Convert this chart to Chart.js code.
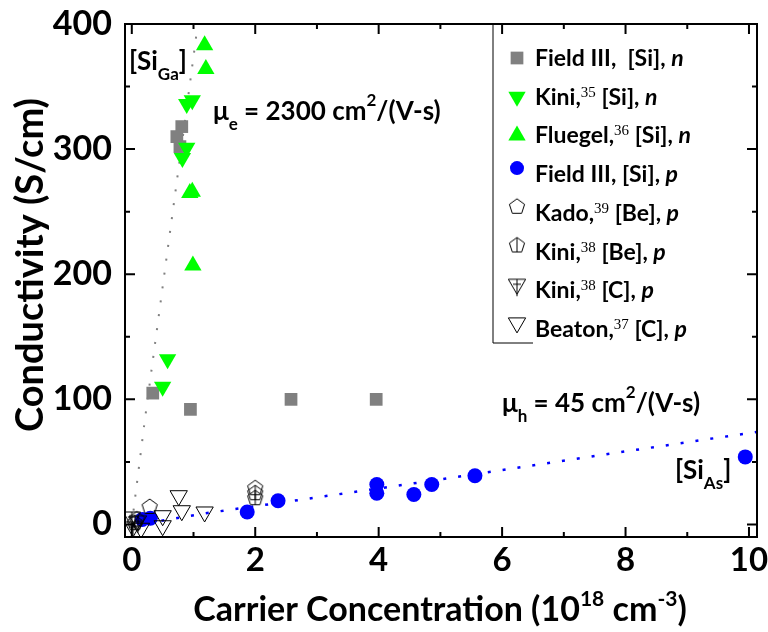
<!DOCTYPE html>
<html>
<head>
<meta charset="utf-8">
<script src="https://cdn.jsdelivr.net/npm/chart.js@4.4.1/dist/chart.umd.min.js"></script>
<style>
  html, body { margin: 0; padding: 0; background: #fff; }
  #wrap { width: 768px; height: 632px; }
</style>
</head>
<body>
<div id="wrap"><canvas id="sigmaChart"></canvas></div>
<script>
// carrier concentration in 1e18 cm^-3, conductivity in S/cm
const fieldN_x   = [0.34, 0.95, 2.58, 3.96, 0.81, 0.73, 0.78];
const fieldN_y   = [105, 92, 100, 100, 318, 310, 302];
const kiniSi_x   = [0.58, 0.50, 0.89, 0.98, 0.89, 0.82];
const kiniSi_y   = [132, 110, 336, 339, 301, 293];
const fluegel_x  = [1.18, 1.20, 0.94, 0.98, 0.99];
const fluegel_y  = [383, 364, 265, 266, 207];
const fieldP_x   = [0.17, 0.30, 1.87, 2.37, 3.97, 3.97, 4.57, 4.86, 5.56, 9.94];
const fieldP_y   = [4, 5, 10, 19, 32, 25, 24, 32, 39, 54];
const kado_x     = [2.0, 0.29, 0.08];
const kado_y     = [29, 14, 4];
const kiniBe_x   = [2.0, 2.0, 0.05];
const kiniBe_y   = [25, 21, 1];
const kiniC_x    = [0.02, 0.10, 0.0];
const kiniC_y    = [-2, 3, 6];
const beaton_x   = [0.76, 0.81, 1.18, 0.50, 0.50, 0.15];
const beaton_y   = [23, 11, 10, 7, -1, -3];

// mobility guide lines
const muE_x = [0, 0.21, 0.53, 0.89, 1.07];
const muE_y = [0, 83, 201, 333, 400];
const muH_x = [0, 1.2, 2.63, 5.0, 7.67, 10.13];
const muH_y = [-1, 9, 19, 36, 56, 74];

const xTicks = [0, 2, 4, 6, 8, 10];
const yTicks = [0, 100, 200, 300, 400];

const FONT = 'Lato, "Open Sans", sans-serif';
const pts = (xs, ys) => xs.map((x, i) => ({ x: x, y: ys[i] }));

function pentagon(r, stem) {
  const s = Math.ceil(r * 2 + 4);
  const c = document.createElement('canvas');
  c.width = s; c.height = s;
  const g = c.getContext('2d');
  g.strokeStyle = '#000';
  g.lineWidth = 1;
  g.beginPath();
  for (let i = 0; i < 5; i++) {
    const a = -Math.PI / 2 + i * 2 * Math.PI / 5;
    const px = s / 2 + r * Math.cos(a), py = s / 2 + r * Math.sin(a);
    if (i) g.lineTo(px, py); else g.moveTo(px, py);
  }
  g.closePath();
  g.stroke();
  if (stem) {
    g.beginPath();
    g.moveTo(s / 2, s / 2 - r);
    g.lineTo(s / 2, s / 2 + r * Math.cos(Math.PI / 5));
    g.stroke();
  }
  return c;
}

function crossTriangle(r) {
  const s = Math.ceil(r * 2 + 6);
  const c = document.createElement('canvas');
  c.width = s; c.height = s;
  const g = c.getContext('2d');
  const cx = s / 2, cy = s / 2;
  g.strokeStyle = '#000';
  g.lineWidth = 1;
  g.beginPath();
  g.moveTo(cx - r * 0.866, cy - r / 2);
  g.lineTo(cx + r * 0.866, cy - r / 2);
  g.lineTo(cx, cy + r);
  g.closePath();
  g.moveTo(cx, cy - r / 2);
  g.lineTo(cx, cy + r + 2);
  g.moveTo(cx - 4, cy);
  g.lineTo(cx + 4, cy);
  g.stroke();
  return c;
}

const kadoMark = pentagon(8, false);
const kiniBeMark = pentagon(8, true);
const kiniCMark = crossTriangle(10);

const datasets = [
  { label: 'muE', data: pts(muE_x, muE_y), showLine: true, pointRadius: 0,
    borderColor: '#808080', borderWidth: 2, borderDash: [2, 12], order: 20 },
  { label: 'muH', data: pts(muH_x, muH_y), showLine: true, pointRadius: 0,
    borderColor: '#0000ff', borderWidth: 2.5, borderDash: [3, 12], order: 20 },
  { label: 'Field III, [Si], n', data: pts(fieldN_x, fieldN_y), pointStyle: 'rect',
    pointRadius: 9, backgroundColor: '#808080', borderColor: '#808080', borderWidth: 0, order: 8 },
  { label: 'Kini [Si] n', data: pts(kiniSi_x, kiniSi_y), pointStyle: 'triangle', rotation: 180,
    pointRadius: 10, backgroundColor: '#00ff00', borderColor: '#00ff00', borderWidth: 0, order: 7 },
  { label: 'Fluegel', data: pts(fluegel_x, fluegel_y), pointStyle: 'triangle',
    pointRadius: 10, backgroundColor: '#00ff00', borderColor: '#00ff00', borderWidth: 0, order: 6 },
  { label: 'Field III, [Si], p', data: pts(fieldP_x, fieldP_y), pointStyle: 'circle',
    pointRadius: 7.5, backgroundColor: '#0000ff', borderColor: '#0000ff', borderWidth: 0, order: 5 },
  { label: 'Kado', data: pts(kado_x, kado_y), pointStyle: kadoMark, order: 4 },
  { label: 'Kini Be', data: pts(kiniBe_x, kiniBe_y), pointStyle: kiniBeMark, order: 3 },
  { label: 'Kini C', data: pts(kiniC_x, kiniC_y), pointStyle: kiniCMark, order: 2 },
  { label: 'Beaton', data: pts(beaton_x, beaton_y), pointStyle: 'triangle', rotation: 180,
    pointRadius: 10, backgroundColor: 'rgba(0,0,0,0)', borderColor: '#000', borderWidth: 1, order: 1 }
];

// write a run of text pieces: [text, font, baseline shift]
function rich(ctx, x, y, parts, align) {
  let w = 0;
  parts.forEach(p => { ctx.font = p[1]; w += ctx.measureText(p[0]).width; });
  let cx = align === 'center' ? x - w / 2 : x;
  parts.forEach(p => {
    ctx.font = p[1];
    ctx.fillText(p[0], cx, y + (p[2] || 0));
    cx += ctx.measureText(p[0]).width;
  });
}

const B = s => 'bold ' + s + 'px ' + FONT;
const BI = s => 'italic bold ' + s + 'px ' + FONT;
const SUP = s => s + 'px "Liberation Serif", serif';

const LF = 23;
const legendRows = [
  { style: 'sq', parts: [['Field III,  [Si], ', B(LF)], ['n', BI(LF)]] },
  { style: 'dn', parts: [['Kini,', B(LF)], ['35', SUP(15), -8], [' [Si], ', B(LF)], ['n', BI(LF)]] },
  { style: 'up', parts: [['Fluegel,', B(LF)], ['36', SUP(15), -8], [' [Si], ', B(LF)], ['n', BI(LF)]] },
  { style: 'ci', parts: [['Field III, [Si], ', B(LF)], ['p', BI(LF)]] },
  { style: kadoMark, parts: [['Kado,', B(LF)], ['39', SUP(15), -8], [' [Be], ', B(LF)], ['p', BI(LF)]] },
  { style: kiniBeMark, parts: [['Kini,', B(LF)], ['38', SUP(15), -8], [' [Be], ', B(LF)], ['p', BI(LF)]] },
  { style: kiniCMark, parts: [['Kini,', B(LF)], ['38', SUP(15), -8], [' [C], ', B(LF)], ['p', BI(LF)]] },
  { style: 'ot', parts: [['Beaton,', B(LF)], ['37', SUP(15), -8], [' [C], ', B(LF)], ['p', BI(LF)]] }
];

const decor = {
  id: 'decor',
  afterDraw(chart) {
    const ctx = chart.ctx;
    const a = chart.chartArea;
    const xs = chart.scales.x, ys = chart.scales.y;
    ctx.save();
    ctx.strokeStyle = '#000';
    ctx.lineWidth = 2;
    ctx.strokeRect(a.left, a.top, a.right - a.left, a.bottom - a.top);

    // inward ticks on all four sides
    ctx.beginPath();
    for (let v = 0; v <= 10; v++) {
      const px = xs.getPixelForValue(v);
      const len = v % 2 === 0 ? 10 : 5;
      ctx.moveTo(px, a.bottom); ctx.lineTo(px, a.bottom - len);
      ctx.moveTo(px, a.top); ctx.lineTo(px, a.top + len);
    }
    for (let v = 0; v <= 400; v += 50) {
      const py = ys.getPixelForValue(v);
      const len = v % 100 === 0 ? 10 : 5;
      ctx.moveTo(a.left, py); ctx.lineTo(a.left + len, py);
      ctx.moveTo(a.right, py); ctx.lineTo(a.right - len, py);
    }
    ctx.stroke();

    // legend frame
    ctx.lineWidth = 1;
    ctx.beginPath();
    ctx.moveTo(493, a.top); ctx.lineTo(493, 343); ctx.lineTo(533, 343);
    ctx.stroke();

    ctx.fillStyle = '#000';
    ctx.textBaseline = 'alphabetic';
    ctx.textAlign = 'left';
    legendRows.forEach((r, i) => {
      const base = 66 + i * 38.7;
      const my = base - 8;
      const mx = 517;
      let opt;
      if (r.style === 'sq') opt = { pointStyle: 'rect', radius: 9, borderWidth: 0 };
      else if (r.style === 'dn') opt = { pointStyle: 'triangle', radius: 10, rotation: 180, borderWidth: 0 };
      else if (r.style === 'up') opt = { pointStyle: 'triangle', radius: 10, borderWidth: 0 };
      else if (r.style === 'ci') opt = { pointStyle: 'circle', radius: 7, borderWidth: 0 };
      else if (r.style === 'ot') opt = { pointStyle: 'triangle', radius: 10, rotation: 180, borderWidth: 1 };
      else opt = { pointStyle: r.style, radius: 8 };
      const fill = { sq: '#808080', dn: '#00ff00', up: '#00ff00', ci: '#0000ff' }[r.style];
      ctx.save();
      ctx.fillStyle = fill || 'rgba(0,0,0,0)';
      ctx.strokeStyle = '#000';
      ctx.lineWidth = 1;
      const off = (r.style === 'ci' || typeof r.style !== 'string' || r.style === 'ot') ? -6 : 0;
      Chart.helpers.drawPoint(ctx, opt, mx, my + off);
      ctx.restore();
      ctx.fillStyle = '#000';
      rich(ctx, 535, base, r.parts);
    });

    // annotations
    rich(ctx, 129, 70, [['[Si', B(26)], ['Ga', B(17), 10], [']', B(26)]]);
    rich(ctx, 213, 120, [['\u03bc', B(26)], ['e', B(17), 10], [' = 2300 cm', B(26)], ['2', B(17), -14], ['/(V-s)', B(26)]]);
    rich(ctx, 502, 412, [['\u03bc', B(26)], ['h', B(17), 10], [' = 45 cm', B(26)], ['2', B(17), -14], ['/(V-s)', B(26)]]);
    rich(ctx, 675, 479, [['[Si', B(26)], ['As', B(17), 10], [']', B(26)]]);

    // axis titles
    rich(ctx, 440, 621, [['Carrier Concentration (10', B(34)], ['18', B(21), -15], [' cm', B(34)], ['-3', B(21), -15], [')', B(34)]], 'center');
    ctx.translate(43, 265);
    ctx.rotate(-Math.PI / 2);
    rich(ctx, 0, 0, [['Conductivity (S/cm)', B(38)]], 'center');
    ctx.restore();
  }
};

new Chart(document.getElementById('sigmaChart'), {
  type: 'scatter',
  data: { datasets: datasets },
  options: {
    responsive: true,
    maintainAspectRatio: false,
    animation: false,
    layout: { padding: { top: 24, right: 9, left: 0, bottom: 0 } },
    plugins: { legend: { display: false }, tooltip: { enabled: false } },
    elements: { line: { tension: 0, fill: false } },
    scales: {
      x: {
        type: 'linear', min: -0.11, max: 10.13,
        grid: { display: false, drawTicks: false },
        border: { display: false },
        afterBuildTicks: s => { s.ticks = xTicks.map(v => ({ value: v })); },
        afterFit: s => { s.height = 95; s.paddingLeft = 0; s.paddingRight = 0; },
        ticks: { padding: 4, color: '#000', font: { family: FONT, size: 33, weight: 'bold' } }
      },
      y: {
        type: 'linear', min: -10, max: 400,
        grid: { display: false, drawTicks: false },
        border: { display: false },
        afterBuildTicks: s => { s.ticks = yTicks.map(v => ({ value: v })); },
        afterFit: s => { s.width = 125; s.paddingTop = 0; s.paddingBottom = 0; },
        ticks: { padding: 13, color: '#000', font: { family: FONT, size: 34, weight: 'bold' } }
      }
    }
  },
  plugins: [decor]
});
</script>
</body>
</html>
